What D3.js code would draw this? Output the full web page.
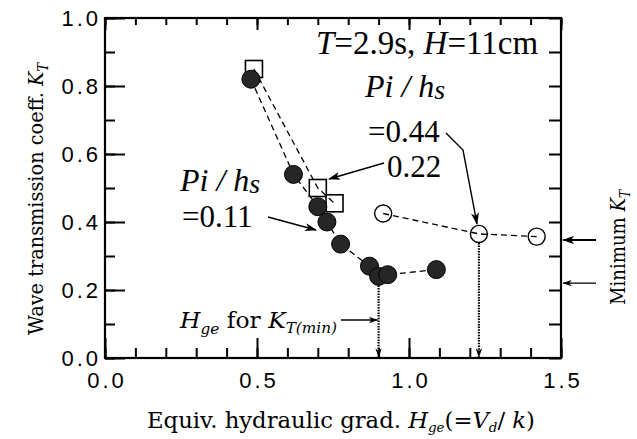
<!DOCTYPE html>
<html>
<head>
<meta charset="utf-8">
<script src="https://cdn.jsdelivr.net/npm/d3@7"></script>
<style>
  body { margin: 0; background: #fff; }
  svg { display: block; }
</style>
</head>
<body>
<div id="chart"></div>
<script>
// data
const filledX = [0.48, 0.62, 0.70, 0.73, 0.775, 0.87, 0.90, 0.93, 1.09];
const filledY = [0.82, 0.54, 0.445, 0.40, 0.335, 0.27, 0.24, 0.245, 0.26];
const squareX = [0.49, 0.70, 0.755];
const squareY = [0.85, 0.50, 0.455];
const openX = [0.915, 1.23, 1.42];
const openY = [0.425, 0.365, 0.357];
const xTicks = [0.0, 0.5, 1.0, 1.5];
const yTicks = [0.0, 0.2, 0.4, 0.6, 0.8, 1.0];
// Hge at minimum KT, for the dotted drop lines
const minHge = [{ x: 0.90, y: 0.24 }, { x: 1.23, y: 0.365 }];
// minimum KT arrows on the right side
const minKT = [0.347, 0.22];

const SERIF = "'Liberation Serif', 'Times New Roman', serif";
const WIDE = "'DejaVu Serif', serif";
const SANS = "'Liberation Sans', Arial, sans-serif";

const width = 637, height = 439;
const svg = d3.select('#chart').append('svg')
  .attr('width', width)
  .attr('height', height);

const x = d3.scaleLinear().domain([0, 1.5]).range([105, 561]);
const y = d3.scaleLinear().domain([0, 1]).range([358, 18]);

// arrow heads
const defs = svg.append('defs');
defs.append('marker')
  .attr('id', 'arr')
  .attr('viewBox', '0 0 12 8')
  .attr('refX', 11).attr('refY', 4)
  .attr('markerWidth', 12).attr('markerHeight', 8)
  .attr('markerUnits', 'userSpaceOnUse')
  .attr('orient', 'auto')
  .append('path')
  .attr('d', 'M0,0 L12,4 L0,8 L3,4 Z')
  .attr('fill', 'black');
defs.append('marker')
  .attr('id', 'arrSmall')
  .attr('viewBox', '0 0 10 7')
  .attr('refX', 9.5).attr('refY', 3.5)
  .attr('markerWidth', 9).attr('markerHeight', 7)
  .attr('markerUnits', 'userSpaceOnUse')
  .attr('orient', 'auto')
  .append('path')
  .attr('d', 'M0,0 L10,3.5 L0,7 L2.5,3.5 Z')
  .attr('fill', 'black');

// frame ticks, all pointing inward
const axes = svg.append('g');
const tenths = n => d3.range(0, n + 1).map(d => d / 10);
axes.append('g')
  .attr('transform', `translate(0,${y(0)})`)
  .call(d3.axisBottom(x).tickValues(tenths(15)).tickSize(-10).tickFormat(''));
axes.append('g')
  .attr('transform', `translate(0,${y(0)})`)
  .call(d3.axisBottom(x).tickValues(xTicks).tickSize(-20).tickFormat(''));
axes.append('g')
  .attr('transform', `translate(0,${y(1)})`)
  .call(d3.axisTop(x).tickValues(tenths(15)).tickSize(-7).tickFormat(''));
axes.append('g')
  .attr('transform', `translate(0,${y(1)})`)
  .call(d3.axisTop(x).tickValues(xTicks).tickSize(-12).tickFormat(''));
axes.append('g')
  .attr('transform', `translate(${x(0)},0)`)
  .call(d3.axisLeft(y).tickValues(tenths(10)).tickSize(-10).tickFormat(''));
axes.append('g')
  .attr('transform', `translate(${x(0)},0)`)
  .call(d3.axisLeft(y).tickValues(yTicks).tickSize(-20).tickFormat(''));
axes.append('g')
  .attr('transform', `translate(${x(1.5)},0)`)
  .call(d3.axisRight(y).tickValues(tenths(10)).tickSize(-12).tickFormat(''));
axes.selectAll('.domain').remove();
axes.selectAll('line').attr('stroke', 'black').attr('stroke-width', 2);

svg.append('rect')
  .attr('x', x(0)).attr('y', y(1))
  .attr('width', x(1.5) - x(0)).attr('height', y(0) - y(1))
  .attr('fill', 'none').attr('stroke', 'black').attr('stroke-width', 2.2);

// tick labels
svg.append('g').selectAll('text')
  .data(yTicks).enter().append('text')
  .attr('x', 101).attr('y', d => y(d) + 8)
  .attr('text-anchor', 'end')
  .attr('font-family', SANS).attr('font-size', 22).attr('letter-spacing', 3)
  .text(d => d.toFixed(1));
svg.append('g').selectAll('text')
  .data(xTicks).enter().append('text')
  .attr('x', d => x(d) + 2).attr('y', 388)
  .attr('text-anchor', 'middle')
  .attr('font-family', SANS).attr('font-size', 22).attr('letter-spacing', 3)
  .text(d => d.toFixed(1));

// dashed connecting lines
const line = d3.line().x(d => x(d[0])).y(d => y(d[1]));
const dashed = (xs, ys) => svg.append('path')
  .datum(d3.zip(xs, ys))
  .attr('d', line)
  .attr('fill', 'none').attr('stroke', 'black')
  .attr('stroke-width', 1.3).attr('stroke-dasharray', '6,4');
dashed(squareX, squareY);
dashed(filledX, filledY);
dashed(openX, openY);

// dotted drop lines to the Hge axis
svg.append('g').selectAll('line')
  .data(minHge).enter().append('line')
  .attr('x1', d => x(d.x)).attr('x2', d => x(d.x))
  .attr('y1', d => y(d.y) + 9).attr('y2', y(0) - 1)
  .attr('stroke', 'black').attr('stroke-width', 2.2)
  .attr('stroke-dasharray', '1.5,1.2')
  .attr('marker-end', 'url(#arrSmall)');

// markers
svg.append('g').selectAll('rect')
  .data(d3.zip(squareX, squareY)).enter().append('rect')
  .attr('x', d => x(d[0]) - 8.5).attr('y', d => y(d[1]) - 8.5)
  .attr('width', 17).attr('height', 17)
  .attr('fill', 'none').attr('stroke', 'black').attr('stroke-width', 1.6);
svg.append('g').selectAll('circle')
  .data(d3.zip(filledX, filledY)).enter().append('circle')
  .attr('cx', d => x(d[0])).attr('cy', d => y(d[1])).attr('r', 9)
  .attr('fill', '#262626').attr('stroke', 'black').attr('stroke-width', 1);
svg.append('g').selectAll('circle')
  .data(d3.zip(openX, openY)).enter().append('circle')
  .attr('cx', d => x(d[0])).attr('cy', d => y(d[1])).attr('r', 8.5)
  .attr('fill', 'none').attr('stroke', 'black').attr('stroke-width', 1.4);

// annotations
function serifText(px, py, size, family = SERIF) {
  return svg.append('text').attr('x', px).attr('y', py)
    .attr('font-family', family).attr('font-size', size);
}
const cond = serifText(316, 54, 33);
cond.append('tspan').attr('font-style', 'italic').text('T');
cond.append('tspan').text('=2.9s, ');
cond.append('tspan').attr('font-style', 'italic').text('H');
cond.append('tspan').text('=11cm');

function piHs(px, py) {
  const t = serifText(px, py, 32).attr('font-style', 'italic');
  t.append('tspan').text('Pi / h');
  t.append('tspan').attr('font-size', 28).attr('dy', 2).text('s');
}
piHs(365, 97);
serifText(368, 142, 31).text('=0.44');
serifText(387, 177, 31).text('0.22');
piHs(180, 191);
serifText(182, 227, 31).text('=0.11');

const arrow = (pts, w, m) => svg.append('path')
  .attr('d', d3.line()(pts))
  .attr('fill', 'none').attr('stroke', 'black').attr('stroke-width', w)
  .attr('marker-end', `url(#${m})`);
arrow([[446, 133], [463, 150], [477, y(openY[1]) - 10]], 1.4, 'arr');
arrow([[384, 163], [329, 179]], 1.6, 'arr');
arrow([[268, 217], [316, 230]], 1.6, 'arr');
arrow([[341, 320], [x(minHge[0].x) - 1, 320]], 1.6, 'arrSmall');
arrow([[596, y(minKT[0])], [563, y(minKT[0])]], 2, 'arr');
arrow([[596, y(minKT[1])], [563, y(minKT[1])]], 1.2, 'arrSmall');

const hge = serifText(180, 328, 23, WIDE).attr('textLength', 157).attr('lengthAdjust', 'spacingAndGlyphs');
hge.append('tspan').attr('font-style', 'italic').text('H');
hge.append('tspan').attr('font-style', 'italic').attr('font-size', 15).attr('dy', 6).text('ge');
hge.append('tspan').attr('dy', -6).text(' for ');
hge.append('tspan').attr('font-style', 'italic').text('K');
hge.append('tspan').attr('font-style', 'italic').attr('font-size', 15).attr('dy', 5).text('T(min)');

// axis titles
const xl = serifText(147, 428, 22, WIDE).attr('textLength', 388).attr('lengthAdjust', 'spacingAndGlyphs');
xl.append('tspan').text('Equiv. hydraulic grad. ');
xl.append('tspan').attr('font-style', 'italic').text('H');
xl.append('tspan').attr('font-style', 'italic').attr('font-size', 13).attr('dy', 4).text('ge');
xl.append('tspan').attr('dy', -4).text('(=');
xl.append('tspan').attr('font-style', 'italic').text('V');
xl.append('tspan').attr('font-style', 'italic').attr('font-size', 13).attr('dy', 4).text('d');
xl.append('tspan').attr('dy', -4).text('\u2215 ');
xl.append('tspan').attr('font-style', 'italic').text('k');
xl.append('tspan').text(')');

const yl = svg.append('text')
  .attr('transform', `translate(43,${335}) rotate(-90)`)
  .attr('font-family', WIDE).attr('font-size', 21)
  .attr('textLength', 272).attr('lengthAdjust', 'spacingAndGlyphs');
yl.append('tspan').text('Wave transmission coeff. ');
yl.append('tspan').attr('font-style', 'italic').text('K');
yl.append('tspan').attr('font-style', 'italic').attr('font-size', 14).attr('dy', 5).text('T');

const rl = svg.append('text')
  .attr('transform', `translate(625,${305}) rotate(-90)`)
  .attr('font-family', WIDE).attr('font-size', 21)
  .attr('textLength', 115).attr('lengthAdjust', 'spacingAndGlyphs');
rl.append('tspan').text('Minimum ');
rl.append('tspan').attr('font-style', 'italic').text('K');
rl.append('tspan').attr('font-style', 'italic').attr('font-size', 14).attr('dy', 5).text('T');
</script>
</body>
</html>
